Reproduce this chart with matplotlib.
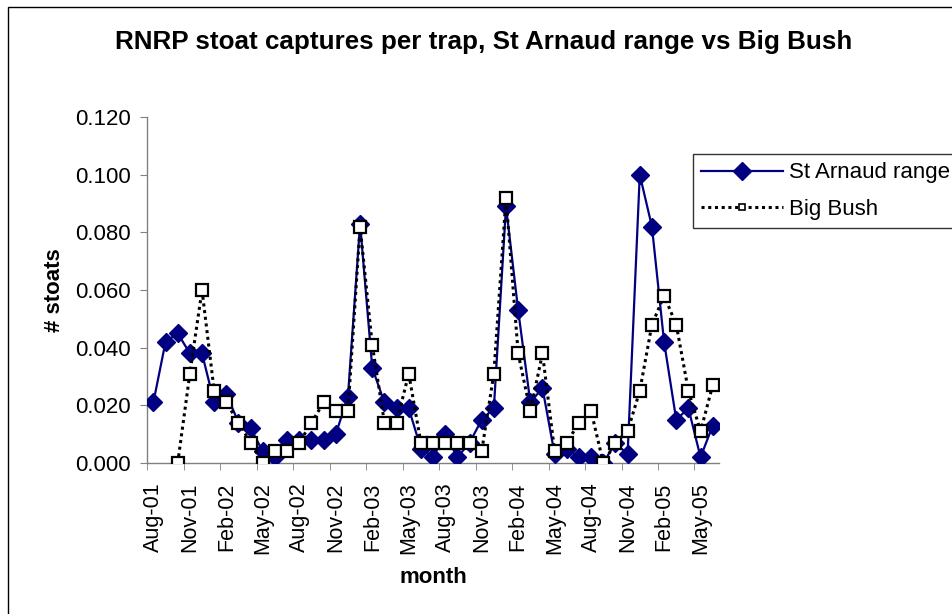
import matplotlib
matplotlib.use("Agg")
import matplotlib.pyplot as plt
from matplotlib.lines import Line2D
from matplotlib.patches import Rectangle
import numpy as np

plt.rcParams['font.family'] = ['Liberation Sans', 'DejaVu Sans']

# Months Aug-01 .. Jun-05
month_names = ['Jan', 'Feb', 'Mar', 'Apr', 'May', 'Jun', 'Jul', 'Aug', 'Sep', 'Oct', 'Nov', 'Dec']
months = []
for k in range(47):
    m = (7 + k) % 12
    y = 1 + (7 + k) // 12
    months.append(f"{month_names[m]}-{y:02d}")

st_arnaud = [0.021, 0.042, 0.045, 0.038, 0.038, 0.021, 0.024, 0.014, 0.012, 0.004,
             0.002, 0.008, 0.008, 0.008, 0.008, 0.010, 0.023, 0.083, 0.033, 0.021,
             0.019, 0.019, 0.005, 0.002, 0.010, 0.002, 0.007, 0.015, 0.019, 0.089,
             0.053, 0.021, 0.026, 0.003, 0.005, 0.002, 0.002, 0.000, 0.007, 0.003,
             0.100, 0.082, 0.042, 0.015, 0.019, 0.002, 0.013]

# Big Bush starts Oct-01
big_bush_start = 2
big_bush = [0.000, 0.031, 0.060, 0.025, 0.021, 0.014, 0.007, 0.000, 0.004, 0.004,
            0.007, 0.014, 0.021, 0.018, 0.018, 0.082, 0.041, 0.014, 0.014, 0.031,
            0.007, 0.007, 0.007, 0.007, 0.007, 0.004, 0.031, 0.092, 0.038, 0.018,
            0.038, 0.004, 0.007, 0.014, 0.018, 0.000, 0.007, 0.011, 0.025, 0.048,
            0.058, 0.048, 0.025, 0.011, 0.027]

y_ticks = [0.000, 0.020, 0.040, 0.060, 0.080, 0.100, 0.120]

W, H = 953, 614
fig = plt.figure(figsize=(W / 100, H / 100), dpi=100)
fig.patch.set_facecolor('white')

# outer chart frame (extends beyond image on right/bottom)
fig.patches.append(Rectangle((8 / W, -0.1), 1.2, (H - 7) / H + 0.1, transform=fig.transFigure,
                             fill=False, edgecolor='#000000', linewidth=1.0))

ax_l, ax_r = 147.3, 718.8
ax_t, ax_b = 117, 463
ax = fig.add_axes([ax_l / W, (H - ax_b) / H, (ax_r - ax_l) / W, (ax_b - ax_t) / H])

x_sa = np.arange(len(st_arnaud))
x_bb = np.arange(big_bush_start, big_bush_start + len(big_bush))

ax.plot(x_sa, st_arnaud, color='#000080', linewidth=1.6, marker='D', markersize=9,
        markerfacecolor='#000080', markeredgecolor='#000080', zorder=3)
ax.plot(x_bb, big_bush, color='black', linewidth=2.2, linestyle=(0, (1, 1.2)),
        marker='s', markersize=8, markerfacecolor='white', markeredgecolor='black',
        markeredgewidth=1.6, zorder=4)

ax.set_xlim(-0.5, len(months) - 0.5)
ax.set_ylim(0, 0.120)

ax.set_yticks(y_ticks)
ax.set_yticklabels([f"{v:.3f}" for v in y_ticks], fontsize=16)

label_pos = list(range(0, len(months), 3))
ax.set_xticks(label_pos)
ax.set_xticklabels([months[i] for i in label_pos], rotation=90, fontsize=15.5)
ax.tick_params(axis='x', which='major', length=0, pad=14)
ax.set_xticks([p - 0.5 for p in label_pos], minor=True)
ax.tick_params(axis='x', which='minor', length=5, direction='out', color='#808080')
ax.tick_params(axis='y', length=5, direction='out', color='#808080', pad=7)

for s in ['top', 'right']:
    ax.spines[s].set_visible(False)
for s in ['left', 'bottom']:
    ax.spines[s].set_color('#808080')
    ax.spines[s].set_linewidth(1.0)

ax.set_xlabel('month', fontsize=16, fontweight='bold', labelpad=9)
ax.set_ylabel('# stoats', fontsize=16, fontweight='bold', labelpad=7)

fig.text(484 / W, 1 - 42 / H, 'RNRP stoat captures per trap, St Arnaud range vs Big Bush',
         ha='center', va='center', fontsize=18.7, fontweight='bold')

handles = [
    Line2D([], [], color='#000080', linewidth=1.6, marker='D', markersize=9,
           markerfacecolor='#000080', markeredgecolor='#000080'),
    Line2D([], [], color='black', linewidth=2.2, linestyle=(0, (1, 1.2)), marker='s',
           markersize=5, markerfacecolor='white', markeredgecolor='black', markeredgewidth=1.2),
]
leg = fig.legend(handles, ['St Arnaud range', 'Big Bush'], loc='upper left',
                 bbox_to_anchor=(693 / W, 1 - 154 / H), fontsize=16, frameon=True,
                 fancybox=False, edgecolor='#000000', handlelength=3.65, handletextpad=0.3,
                 borderpad=0.38, labelspacing=0.7, borderaxespad=0)
leg.get_frame().set_linewidth(1.0)

fig.savefig('out.png', dpi=100)
